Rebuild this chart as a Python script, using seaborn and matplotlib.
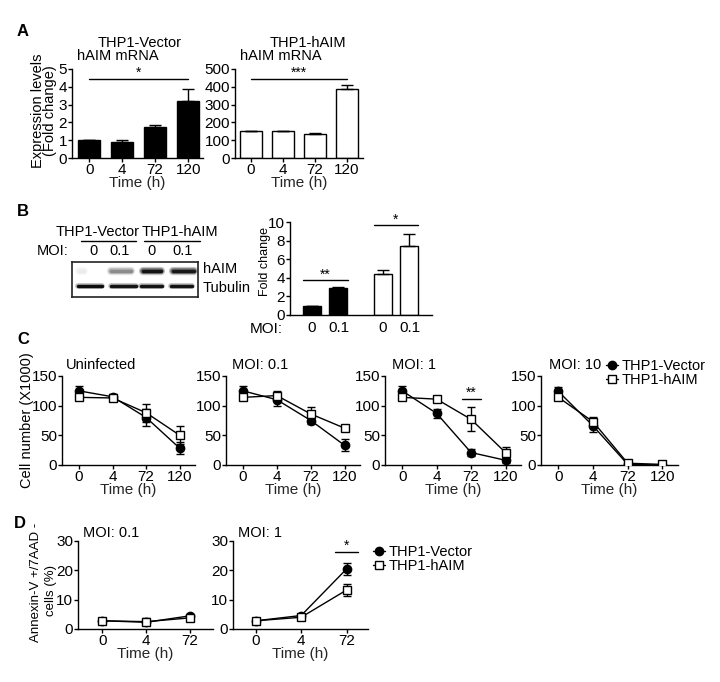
import numpy as np
import pandas as pd
import matplotlib
matplotlib.use("Agg")
import matplotlib.pyplot as plt
import seaborn as sns
from matplotlib.lines import Line2D

# ---- data ----
a_times = ["0", "4", "72", "120"]
a_vector = [1.0, 0.92, 1.72, 3.2]
a_vector_err = [0.0, 0.07, 0.14, 0.7]
a_haim = [150, 150, 137, 390]
a_haim_err = [0, 0, 5, 18]

b_moi = ["0", "0.1", "0", "0.1"]
b_fold_vector = [1.0, 2.95]
b_fold_vector_err = [0.0, 0.05]
b_fold_haim = [4.45, 7.4]
b_fold_haim_err = [0.4, 1.3]
b_band_haim = [0.08, 0.45, 0.92, 0.9]
b_band_tubulin = [0.95, 0.92, 0.92, 0.92]

c_times = ["0", "4", "72", "120"]
c_titles = ["Uninfected", "MOI: 0.1", "MOI: 1", "MOI: 10"]
c_vector = [[125, 115, 80, 28], [125, 110, 75, 33], [125, 87, 21, 8], [124, 66, 1, 0]]
c_vector_err = [[8, 5, 15, 10], [8, 10, 6, 10], [8, 7, 6, 5], [8, 10, 1, 0]]
c_haim = [[114, 113, 88, 50], [114, 117, 86, 62], [114, 111, 77, 21], [114, 73, 3, 1]]
c_haim_err = [[3, 3, 15, 15], [3, 8, 12, 3], [3, 3, 20, 10], [3, 8, 1, 1]]

d_times = ["0", "4", "72"]
d_titles = ["MOI: 0.1", "MOI: 1"]
d_vector = [[2.8, 2.3, 4.5], [2.8, 4.6, 20.5]]
d_vector_err = [[0.3, 0.5, 0.4], [0.4, 0.5, 2.0]]
d_haim = [[2.8, 2.5, 3.8], [2.8, 4.0, 13.3]]
d_haim_err = [[0.5, 1.2, 0.5], [0.5, 0.8, 2.0]]

sns.set_theme(style="ticks")
plt.rcParams['font.family'] = ['Liberation Sans', 'DejaVu Sans']
plt.rcParams['font.size'] = 10
plt.rcParams['axes.edgecolor'] = 'black'
plt.rcParams['text.color'] = 'black'

W, H = 720, 682
TICK = 11
fig = plt.figure(figsize=(W / 100, H / 100), dpi=100)


def add_ax(x0, y0, x1, y1):
    return fig.add_axes([x0 / W, 1 - y1 / H, (x1 - x0) / W, (y1 - y0) / H])


def ftext(x, y, s, **kw):
    kw.setdefault("ha", "center")
    kw.setdefault("va", "center")
    kw.setdefault("fontsize", 10)
    fig.text(x / W, 1 - y / H, s, **kw)


def style(ax):
    sns.despine(ax=ax)
    for s in ["left", "bottom"]:
        ax.spines[s].set_linewidth(1)
        ax.spines[s].set_color("black")
    ax.tick_params(length=3, width=1, pad=0.5, labelsize=TICK, colors="black")
    ax.set_ylabel("")
    ax.set_xlabel("")


def sig(ax, x0, x1, y, star, ystar):
    ax.plot([x0, x1], [y, y], color="black", lw=1, clip_on=False)
    ax.text((x0 + x1) / 2, ystar, star, ha="center", va="center", fontsize=10, clip_on=False)


# ---------------- Panel A ----------------
ftext(17, 32, "A", fontsize=12, fontweight="bold", ha="left")
ftext(44, 111, "Expression levels\n(Fold change)", rotation=90, linespacing=0.9, fontsize=10.5)

ax = add_ax(72, 69, 203, 158)
dfa = pd.DataFrame({"time": a_times, "val": a_vector})
sns.barplot(data=dfa, x="time", y="val", color="black", edgecolor="black", linewidth=1,
            width=0.67, saturation=1, errorbar=None, ax=ax)
ax.errorbar(range(4), a_vector, yerr=[np.zeros(4), a_vector_err], fmt="none",
            ecolor="black", elinewidth=1, capsize=4, capthick=1)
style(ax)
ax.set_ylim(0, 5)
ax.set_xlim(-0.52, 3.45)
ax.set_yticks([0, 1, 2, 3, 4, 5])
ax.set_xlabel("Time (h)", labelpad=-0.5, fontsize=11)
sig(ax, 0, 3, 4.44, "*", 4.8)
ftext(140, 43, "THP1-Vector", fontsize=10.5)
ftext(77, 56, "hAIM mRNA", ha="left", fontsize=10.5)

ax = add_ax(235, 69, 363, 158)
dfa2 = pd.DataFrame({"time": a_times, "val": a_haim})
sns.barplot(data=dfa2, x="time", y="val", color="white", edgecolor="black", linewidth=1,
            width=0.67, saturation=1, errorbar=None, ax=ax)
ax.errorbar(range(4), a_haim, yerr=[np.zeros(4), a_haim_err], fmt="none",
            ecolor="black", elinewidth=1, capsize=4, capthick=1)
style(ax)
ax.set_ylim(0, 500)
ax.set_xlim(-0.5, 3.5)
ax.set_yticks([0, 100, 200, 300, 400, 500])
ax.set_xlabel("Time (h)", labelpad=-0.5, fontsize=11)
sig(ax, 0, 3, 444, "***", 480)
ftext(308, 43, "THP1-hAIM", fontsize=10.5)
ftext(240, 56, "hAIM mRNA", ha="left", fontsize=10.5)

# ---------------- Panel B ----------------
ftext(17, 212, "B", fontsize=12, fontweight="bold", ha="left")
ftext(98, 232, "THP1-Vector", fontsize=10.5)
ftext(180, 232, "THP1-hAIM", fontsize=10.5)
fig.add_artist(Line2D([81 / W, 136 / W], [1 - 241 / H] * 2, color="black", lw=1))
fig.add_artist(Line2D([144 / W, 200 / W], [1 - 241 / H] * 2, color="black", lw=1))
ftext(53, 251, "MOI:", fontsize=10.5)
for xp, lab in zip([94, 120, 151, 183], b_moi):
    ftext(xp, 251, lab, fontsize=10.5)

axb = add_ax(72, 262, 198, 297)
axb.set_xlim(72, 198)
axb.set_ylim(297, 262)
axb.set_xticks([])
axb.set_yticks([])
for s in axb.spines.values():
    s.set_linewidth(1.2)
    s.set_color("#222222")
haim_lanes = [(79, 84), (111, 131), (143, 161), (173, 194)]
tub_lanes = [(78, 102), (111, 136), (141, 162), (171, 192)]
for (x0, x1), inten in zip(haim_lanes, b_band_haim):
    for lw, al in [(6, 0.25), (4, 0.5), (2.5, 1.0)]:
        axb.plot([x0, x1], [271, 271], color=plt.cm.gray_r(inten), lw=lw, alpha=al,
                 solid_capstyle="round")
for (x0, x1), inten in zip(tub_lanes, b_band_tubulin):
    for lw, al in [(4, 0.3), (2.5, 1.0)]:
        axb.plot([x0, x1], [286, 286], color=plt.cm.gray_r(inten), lw=lw, alpha=al,
                 solid_capstyle="round")
ftext(203, 269, "hAIM", ha="left", fontsize=10.5)
ftext(203, 288, "Tubulin", ha="left", fontsize=10.5)

ax = add_ax(290, 222, 432, 315)
sns.barplot(x=[0.0, 1.0], y=b_fold_vector, native_scale=True, color="black", edgecolor="black",
            linewidth=1, width=0.68, saturation=1, errorbar=None, ax=ax)
sns.barplot(x=[2.68, 3.68], y=b_fold_haim, native_scale=True, color="white", edgecolor="black",
            linewidth=1, width=0.68, saturation=1, errorbar=None, ax=ax)
ax.errorbar([0.0, 1.0], b_fold_vector, yerr=[np.zeros(2), b_fold_vector_err], fmt="none",
            ecolor="black", elinewidth=1, capsize=4, capthick=1)
ax.errorbar([2.68, 3.68], b_fold_haim, yerr=[np.zeros(2), b_fold_haim_err], fmt="none",
            ecolor="black", elinewidth=1, capsize=4, capthick=1)
style(ax)
ax.set_ylim(0, 10)
ax.set_xlim(-0.83, 4.53)
ax.set_yticks([0, 2, 4, 6, 8, 10])
ax.set_xticks([0, 1, 2.68, 3.68])
ax.set_xticklabels(b_moi)
ax.tick_params(axis="x", length=0, pad=4)
sig(ax, -0.34, 1.36, 3.76, "**", 4.3)
sig(ax, 2.34, 4.0, 9.68, "*", 10.25)
ftext(265, 261, "Fold change", rotation=90, fontsize=9)
ftext(266, 329, "MOI:", fontsize=TICK)


# ---------------- Panel C / D line plots ----------------
def line_panel(ax, vec, vec_err, haim, haim_err, n):
    pos = np.arange(n)
    ax.errorbar(pos, vec, yerr=vec_err, fmt="none", ecolor="black", elinewidth=1,
                capsize=3, capthick=1, zorder=2)
    ax.errorbar(pos, haim, yerr=haim_err, fmt="none", ecolor="black", elinewidth=1,
                capsize=3, capthick=1, zorder=2)
    sns.lineplot(x=pos, y=vec, color="black", lw=1, marker="o", markersize=6,
                 markerfacecolor="black", markeredgecolor="black", markeredgewidth=1,
                 ax=ax, zorder=3)
    sns.lineplot(x=pos, y=haim, color="black", lw=1, marker="s", markersize=6,
                 markerfacecolor="white", markeredgecolor="black", markeredgewidth=1,
                 ax=ax, zorder=4)
    style(ax)


ftext(17, 340, "C", fontsize=12, fontweight="bold", ha="left")
ftext(27, 420, "Cell number (X1000)", rotation=90, fontsize=10.5)
c_boxes = [(62, 195), (226, 360), (385, 521), (541, 678)]
c_title_x = [66, 232, 392, 549]
for i, (x0, x1) in enumerate(c_boxes):
    ax = add_ax(x0, 376, x1, 465)
    line_panel(ax, c_vector[i], c_vector_err[i], c_haim[i], c_haim_err[i], 4)
    ax.set_ylim(0, 150)
    ax.set_xlim(-0.5, 3.45)
    ax.set_yticks([0, 50, 100, 150])
    ax.set_xticks(range(4))
    ax.set_xticklabels(c_times)
    ax.set_xlabel("Time (h)", labelpad=-0.5, fontsize=11)
    ftext(c_title_x[i], 365, c_titles[i], ha="left", fontsize=10.5)
    if i == 2:
        sig(ax, 1.74, 2.29, 112, "**", 122)

handles = [Line2D([], [], color="black", lw=1, marker="o", markersize=6, markerfacecolor="black"),
           Line2D([], [], color="black", lw=1, marker="s", markersize=6, markerfacecolor="white")]
labels = ["THP1-Vector", "THP1-hAIM"]
fig.legend(handles, labels, loc="center left", bbox_to_anchor=(606 / W, 1 - 373 / H),
           frameon=False, handlelength=0.8, handletextpad=0.3, labelspacing=0.05,
           borderpad=0, borderaxespad=0, fontsize=10.5)

ftext(14, 523, "D", fontsize=12, fontweight="bold", ha="left")
ftext(36, 582, "Annexin-V +/7AAD -", rotation=90, fontsize=9.5)
ftext(51, 591, "cells (%)", rotation=90, fontsize=9.5)
d_boxes = [(78, 213, -0.55, 2.52), (233, 368, -0.5, 2.47)]
d_title_x = [83, 238]
for i, (x0, x1, l, r) in enumerate(d_boxes):
    ax = add_ax(x0, 541, x1, 629)
    line_panel(ax, d_vector[i], d_vector_err[i], d_haim[i], d_haim_err[i], 3)
    ax.set_ylim(0, 30)
    ax.set_xlim(l, r)
    ax.set_yticks([0, 10, 20, 30])
    ax.set_xticks(range(3))
    ax.set_xticklabels(d_times)
    ax.set_xlabel("Time (h)", labelpad=-0.5, fontsize=11)
    ftext(d_title_x[i], 533, d_titles[i], ha="left", fontsize=10.5)
    if i == 1:
        sig(ax, 1.74, 2.26, 26.2, "*", 28.3)

fig.legend(handles, labels, loc="center left", bbox_to_anchor=(373 / W, 1 - 559 / H),
           frameon=False, handlelength=0.8, handletextpad=0.3, labelspacing=0.05,
           borderpad=0, borderaxespad=0, fontsize=10.5)

fig.savefig("out.png", dpi=100)
